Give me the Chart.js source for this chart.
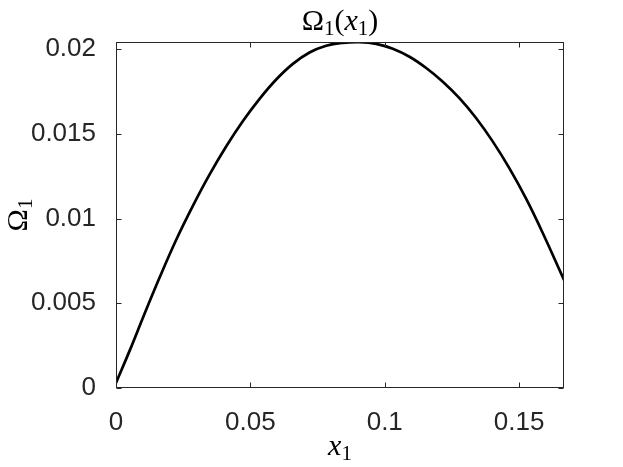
<!DOCTYPE html>
<html>
<head>
<meta charset="utf-8">
<script src="https://cdn.jsdelivr.net/npm/chart.js@4.4.1/dist/chart.umd.min.js"></script>
<style>
  html, body { margin: 0; padding: 0; background: #fff; }
  #wrap { width: 623px; height: 467px; }
</style>
</head>
<body>
<div id="wrap"><canvas id="chartOmega" width="623" height="467"></canvas></div>
<script>
// values
const xVals = [0, 0.0052, 0.0101, 0.0163, 0.0225, 0.0287, 0.0349, 0.0411, 0.0473, 0.0535,
               0.0597, 0.0658, 0.072, 0.0782, 0.0844, 0.0906, 0.0968, 0.103, 0.1092, 0.1153,
               0.1215, 0.1277, 0.1339, 0.1401, 0.1463, 0.1525, 0.1587, 0.1667];
const omegaVals = [0.0003, 0.00225, 0.00418, 0.00655, 0.00878, 0.01078, 0.01262, 0.01428, 0.01577, 0.01708,
                   0.01822, 0.01913, 0.0198, 0.0202, 0.02037, 0.02041, 0.02031, 0.02002, 0.01955, 0.0189,
                   0.01809, 0.01712, 0.01595, 0.01457, 0.01299, 0.0112, 0.00918, 0.00638];
const xTicks = [0, 0.05, 0.1, 0.15];
const yTicks = [0, 0.005, 0.01, 0.015, 0.02];
const xRange = [0, 0.1667];
const yRange = [0, 0.02042];

const AXIS = '#262626';
const SERIF = '"Liberation Serif", "DejaVu Serif", serif';

// draw a run of text pieces (for sub-scripts), centred on cx
function drawParts(ctx, parts, cx, cy) {
    let w = 0;
    parts.forEach(p => { ctx.font = p.font; w += ctx.measureText(p.t).width; });
    let x = cx - w / 2;
    parts.forEach(p => {
        ctx.font = p.font;
        ctx.fillText(p.t, x, cy + (p.dy || 0));
        x += ctx.measureText(p.t).width;
    });
}

const framePlugin = {
    id: 'frame',
    afterDraw(chart) {
        const { ctx, chartArea: a, scales } = chart;
        const L = Math.round(a.left) + 0.5, R = Math.round(a.right) - 0.5;
        const T = Math.round(a.top) + 0.5, B = Math.round(a.bottom) - 0.5;
        const tl = 5;
        ctx.save();
        ctx.strokeStyle = AXIS;
        ctx.lineWidth = 1;
        ctx.strokeRect(L, T, R - L, B - T);
        ctx.beginPath();
        scales.x.ticks.forEach(t => {
            const px = Math.round(scales.x.getPixelForValue(t.value)) + 0.5;
            ctx.moveTo(px, B); ctx.lineTo(px, B - tl);
            ctx.moveTo(px, T); ctx.lineTo(px, T + tl);
        });
        scales.y.ticks.forEach(t => {
            const py = Math.round(scales.y.getPixelForValue(t.value)) + 0.5;
            ctx.moveTo(L, py); ctx.lineTo(L + tl, py);
            ctx.moveTo(R, py); ctx.lineTo(R - tl, py);
        });
        ctx.stroke();

        // title + axis labels (LaTeX-like)
        ctx.fillStyle = '#000';
        ctx.textBaseline = 'alphabetic';
        ctx.textAlign = 'left';
        const big = '30px ' + SERIF, sub = '21px ' + SERIF, it = 'italic 30px ' + SERIF;
        const cx = (a.left + a.right) / 2;
        drawParts(ctx, [
            { t: '\u03A9', font: big }, { t: '1', font: sub, dy: 5 },
            { t: '(', font: big }, { t: 'x', font: it }, { t: '1', font: sub, dy: 5 },
            { t: ')', font: big }
        ], cx, 30);
        drawParts(ctx, [{ t: 'x', font: it }, { t: '1', font: sub, dy: 5 }], cx, 455);

        ctx.translate(27, (a.top + a.bottom) / 2);
        ctx.rotate(-Math.PI / 2);
        drawParts(ctx, [{ t: '\u03A9', font: big }, { t: '1', font: sub, dy: 5 }], 0, 0);
        ctx.restore();
    }
};

new Chart(document.getElementById('chartOmega'), {
    type: 'line',
    data: {
        datasets: [{
            data: xVals.map((x, i) => ({ x: x, y: omegaVals[i] })),
            borderColor: '#000',
            borderWidth: 2.7,
            pointRadius: 0,
            tension: 0.4,
            fill: false
        }]
    },
    options: {
        responsive: false,
        animation: false,
        devicePixelRatio: 1,
        layout: { padding: { left: 0, top: 42, right: 59, bottom: 0 } },
        plugins: { legend: { display: false }, tooltip: { enabled: false } },
        scales: {
            x: {
                type: 'linear',
                min: xRange[0], max: xRange[1],
                afterBuildTicks: s => { s.ticks = xTicks.map(v => ({ value: v })); },
                afterFit: s => { s.height = 79; },
                grid: { display: false },
                border: { display: false },
                ticks: {
                    color: AXIS,
                    padding: 11,
                    maxRotation: 0,
                    font: { family: '"Liberation Sans", Arial, sans-serif', size: 26 },
                    callback: v => String(v)
                }
            },
            y: {
                min: yRange[0], max: yRange[1],
                afterBuildTicks: s => { s.ticks = yTicks.map(v => ({ value: v })); },
                afterFit: s => { s.width = 116; },
                grid: { display: false },
                border: { display: false },
                ticks: {
                    color: AXIS,
                    padding: 12,
                    font: { family: '"Liberation Sans", Arial, sans-serif', size: 26 },
                    callback: v => String(v)
                }
            }
        }
    },
    plugins: [framePlugin]
});
</script>
</body>
</html>
